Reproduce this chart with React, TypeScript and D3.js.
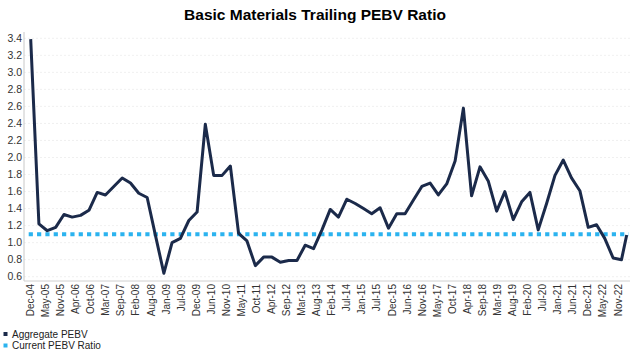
import React from "react";
import * as d3 from "d3";

const TITLE = "Basic Materials Trailing PEBV Ratio";
const xTickLabels = [
  "Dec-04","May-05","Nov-05","Apr-06","Oct-06","Mar-07","Sep-07","Feb-08","Aug-08","Jan-09",
  "Jul-09","Dec-09","Jun-10","Nov-10","May-11","Oct-11","Apr-12","Sep-12","Mar-13","Aug-13",
  "Feb-14","Jul-14","Jan-15","Jul-15","Dec-15","Jun-16","Nov-16","May-17","Oct-17","Apr-18",
  "Sep-18","Mar-19","Aug-19","Feb-20","Jul-20","Jan-21","Jun-21","Dec-21","May-22","Nov-22",
];
const yTicks = [0.6,0.8,1.0,1.2,1.4,1.6,1.8,2.0,2.2,2.4,2.6,2.8,3.0,3.2,3.4];
const aggregatePEBV = [
  3.39,1.22,1.14,1.18,1.33,1.30,1.32,1.38,1.59,1.56,
  1.66,1.76,1.70,1.58,1.53,1.08,0.64,1.00,1.05,1.26,
  1.36,2.39,1.79,1.79,1.90,1.11,1.02,0.73,0.83,0.83,
  0.77,0.79,0.79,0.97,0.93,1.15,1.39,1.30,1.51,1.46,
  1.40,1.34,1.41,1.17,1.34,1.34,1.50,1.66,1.70,1.56,
  1.69,1.96,2.58,1.55,1.89,1.72,1.37,1.60,1.27,1.48,
  1.59,1.15,1.46,1.79,1.97,1.76,1.61,1.18,1.21,1.05,
  0.82,0.80,1.09,
];
const currentPEBV = 1.1;
const firstDate = new Date(2004, 11, 1);
const lastDate = new Date(2022, 9, 28);
const legendItems = ["Aggregate PEBV", "Current PEBV Ratio"];

const NAVY = "#1b2a4a";
const BLUE = "#2bb3ef";

export default function App() {
  const W = 630, H = 351;
  const dates = aggregatePEBV.map((_, i) =>
    i === aggregatePEBV.length - 1 ? lastDate : d3.timeMonth.offset(firstDate, 3 * i)
  );
  const x = d3.scaleTime().domain([firstDate, lastDate]).range([30.7, 626.7]);
  const y = d3.scaleLinear().domain([0.6, 3.4]).range([276.7, 38.3]);
  const xl = d3.scalePoint<string>().domain(xTickLabels).range([30.5, 618]);
  const line = d3.line<number>().x((_, i) => x(dates[i])).y((d) => y(d));
  const plotLeft = 24, plotRight = 630, plotBottom = 281, plotTop = 32;
  const font = "Arial, 'Liberation Sans', sans-serif";

  return (
    <svg width={W} height={H} style={{ position: "absolute", left: 0, top: 0, background: "#fff" }} fontFamily={font}>
      <text x={315} y={20} textAnchor="middle" fontSize={15.5} fontWeight="bold" fill="#000">{TITLE}</text>
      {yTicks.map((t) => (
        <g key={t}>
          <line x1={plotLeft} x2={plotRight} y1={y(t)} y2={y(t)} stroke="#ececec" strokeWidth={0.8} strokeDasharray="2,2" />
          <text x={22} y={y(t)} dy="0.35em" textAnchor="end" fontSize={10.5} fill="#333">{t.toFixed(1)}</text>
        </g>
      ))}
      <line x1={plotLeft} x2={plotLeft} y1={plotTop} y2={plotBottom} stroke="#c8c8c8" strokeWidth={1} />
      <line x1={plotLeft} x2={plotRight} y1={plotBottom} y2={plotBottom} stroke="#d0d0d0" strokeWidth={1} />
      {xTickLabels.map((l) => (
        <text key={l} transform={`translate(${xl(l)! + 3.5},${plotBottom + 3}) rotate(-90)`} textAnchor="end" fontSize={10} fill="#333">{l}</text>
      ))}
      <line x1={x(firstDate) - 2} x2={x(lastDate) + 2} y1={y(currentPEBV)} y2={y(currentPEBV)} stroke={BLUE} strokeWidth={4} strokeDasharray="4.2,4.13" />
      <path d={line(aggregatePEBV)!} fill="none" stroke={NAVY} strokeWidth={3} strokeLinejoin="round" />
      {legendItems.map((l, i) => (
        <g key={l} transform={`translate(0,${334 + i * 11.5})`}>
          <rect x={3.5} y={-2} width={4} height={4} fill={i === 0 ? NAVY : BLUE} />
          <text x={12} y={0} dy="0.35em" fontSize={10} fill="#222">{l}</text>
        </g>
      ))}
    </svg>
  );
}
